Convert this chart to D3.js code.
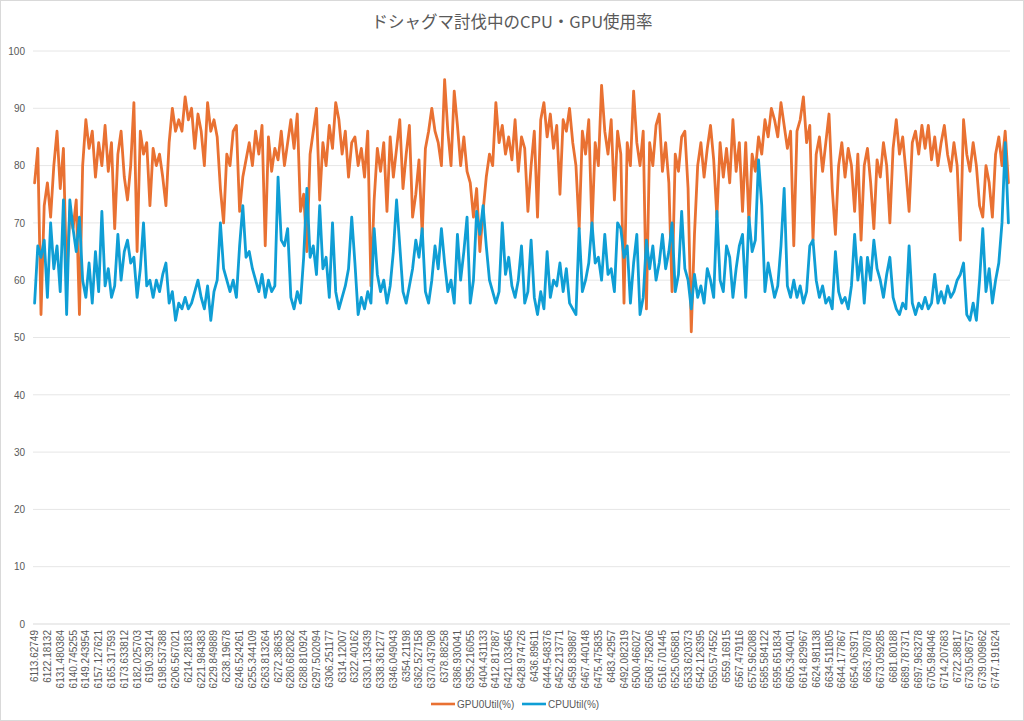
<!DOCTYPE html>
<html>
<head>
<meta charset="utf-8">
<script src="https://cdn.jsdelivr.net/npm/d3@7"></script>
<style>
  html, body { margin: 0; padding: 0; background: #fff; }
  svg { display: block; font-family: "Liberation Sans", "Noto Sans CJK JP", sans-serif; }
</style>
</head>
<body>
<svg class="vis" width="1024" height="721"></svg>
<script>
// time stamps shown on the x axis (every 4th sample)
const tickLabels = [
  '6113.62749','6122.18132','6131.480384','6140.745255','6149.243954','6157.127621','6165.317593','6173.633812',
  '6182.025703','6190.39214','6198.537388','6206.567021','6214.28183','6221.984383','6229.849889','6238.19678',
  '6246.524261','6255.344109','6263.813264','6272.38635','6280.682082','6288.810924','6297.502094','6306.251177',
  '6314.12007','6322.40162','6330.133439','6338.361277','6346.049043','6354.21198','6362.527158','6370.437908',
  '6378.88258','6386.930041','6395.216055','6404.431133','6412.817887','6421.033465','6428.974726','6436.89611',
  '6444.548376','6452.213771','6459.839887','6467.440148','6475.475835','6483.42957','6492.082319','6500.466027',
  '6508.758206','6516.701445','6525.065881','6533.620373','6542.126395','6550.574552','6559.16915','6567.479116',
  '6575.962088','6585.584122','6595.651834','6605.340401','6614.829967','6624.981138','6634.511805','6644.177867',
  '6654.063971','6663.78078','6673.059285','6681.80188','6689.787371','6697.963278','6705.984046','6714.207683',
  '6722.38817','6730.508757','6739.009862','6747.191624'
];
const labelStep = 4;

const gpuUtil = [
  77,83,54,73,77,71,80,86,76,83, 60,72,69,74,54,80,88,83,86,78,
  84,80,87,79,84,69,82,86,78,74, 80,91,65,86,82,84,73,83,80,82,
  78,73,84,90,86,88,86,92,88,90, 83,89,86,80,91,86,88,85,76,70,
  82,80,86,87,72,78,81,84,80,86, 82,87,66,85,79,83,81,86,80,84,
  88,83,89,72,75,65,82,86,90,74, 84,80,87,83,91,88,82,86,78,84,
  85,80,83,78,86,59,74,83,79,84, 72,85,78,83,88,76,82,87,71,75,
  81,68,83,86,90,86,84,80,95,86, 80,93,87,80,85,79,77,71,76,65,
  72,78,82,80,91,84,87,82,85,81, 88,79,85,83,72,80,86,71,88,91,
  85,89,83,87,75,88,86,90,84,80, 69,86,82,88,69,84,80,94,86,82,
  88,74,86,82,56,84,80,93,84,80, 86,55,84,80,87,89,79,84,77,58,
  82,79,85,86,76,51,68,80,84,78, 83,87,81,71,84,78,83,77,88,79,
  84,72,84,70,82,79,85,82,88,85, 90,88,85,91,87,83,86,66,86,88,
  92,84,87,67,82,85,79,84,89,76, 68,80,84,78,83,80,72,82,67,80,
  83,77,69,81,78,84,80,70,83,88, 82,85,79,72,84,86,82,87,83,87,
  81,85,80,84,87,82,79,84,80,67, 88,82,79,84,80,73,71,80,77,71,
  82,85,80,86,77
];

const cpuUtil = [
  56,66,64,67,57,70,62,66,58,74, 54,74,69,65,71,60,57,63,56,65,
  58,72,59,62,57,59,68,60,65,67, 63,64,57,62,70,59,60,57,60,58,
  61,63,56,58,53,56,55,57,55,56, 58,60,57,55,59,53,58,60,70,62,
  60,58,60,57,66,73,64,65,62,60, 58,61,57,60,58,59,78,67,66,69,
  57,55,58,56,64,76,64,66,61,73, 62,64,57,70,58,55,57,59,62,71,
  63,54,57,55,58,56,69,61,58,60, 56,59,65,74,66,58,56,59,62,67,
  64,69,58,56,60,66,62,69,63,58, 60,56,68,60,65,71,56,60,72,68,
  73,66,60,58,56,58,70,61,64,59, 57,60,66,56,58,67,57,54,58,55,
  65,57,60,59,63,58,62,56,55,54, 69,58,60,63,70,63,64,60,68,61,
  62,58,70,69,64,66,56,63,68,54, 57,67,62,66,60,63,68,62,65,70,
  58,61,72,62,60,55,61,57,59,56, 62,60,57,72,60,58,66,64,57,62,
  66,68,57,71,65,67,81,73,58,63, 60,57,59,66,76,59,57,60,57,59,
  56,58,66,67,60,57,59,56,57,55, 65,58,56,57,55,59,68,60,64,56,
  64,60,67,62,60,57,61,64,57,55, 54,56,55,66,56,54,56,55,57,55,
  56,61,56,58,56,59,57,58,60,61, 63,54,53,56,53,60,69,58,62,56,
  60,63,70,84,70
];

const yTicks = [0, 10, 20, 30, 40, 50, 60, 70, 80, 90, 100];
const seriesNames = ['GPU0Util(%)', 'CPUUtil(%)'];
const seriesColors = ['#E97132', '#0F9ED5'];

const v = {

    sizings : { w : 1024, h : 721, left : 33, right : 1010, top : 51, bottom : 624 },

    render : () => {

        const s = v.sizings;
        const svg = d3.select('svg.vis');

        // chart area border
        svg.append('rect')
          .attr('x', 0.5).attr('y', 0.5)
          .attr('width', s.w - 1).attr('height', s.h - 1)
          .attr('fill', '#fff').attr('stroke', '#d9d9d9');

        const n = gpuUtil.length;

        const x = d3.scaleBand()
          .domain(d3.range(n))
          .range([s.left, s.right]);

        const y = d3.scaleLinear()
          .domain([0, 100])
          .range([s.bottom, s.top]);

        const cx = i => x(i) + x.bandwidth() / 2;

        // gridlines
        svg.append('g')
          .selectAll('line')
          .data(yTicks)
          .join('line')
          .attr('x1', s.left).attr('x2', s.right)
          .attr('y1', d => y(d)).attr('y2', d => y(d))
          .attr('stroke', d => d === 0 ? '#d9d9d9' : '#e6e6e6')
          .attr('stroke-width', 1);

        // y axis labels
        const yAxis = d3.axisLeft(y).tickValues(yTicks).tickSize(0).tickPadding(8);
        svg.append('g')
          .attr('transform', `translate(${s.left},0)`)
          .call(yAxis)
          .call(g => g.select('.domain').remove())
          .selectAll('text')
          .attr('fill', '#595959')
          .style('font-size', '10px');

        // x axis labels
        const xAxis = d3.axisBottom(x)
          .tickValues(tickLabels.map((d, k) => k * labelStep))
          .tickFormat(i => tickLabels[i / labelStep])
          .tickSize(0);

        svg.append('g')
          .attr('transform', `translate(0,${s.bottom})`)
          .call(xAxis)
          .call(g => g.select('.domain').remove())
          .selectAll('text')
          .attr('fill', '#595959')
          .style('font-size', '10px')
          .attr('text-anchor', 'end')
          .attr('transform', 'rotate(-90)')
          .attr('x', -6)
          .attr('y', 0)
          .attr('dy', '0.35em');

        // lines
        const line = d3.line()
          .x((d, i) => cx(i))
          .y(d => y(d));

        [gpuUtil, cpuUtil].forEach((series, k) => {
            svg.append('path')
              .datum(series)
              .attr('fill', 'none')
              .attr('stroke', seriesColors[k])
              .attr('stroke-width', 2.8)
              .attr('stroke-linejoin', 'round')
              .attr('stroke-linecap', 'round')
              .attr('d', line);
        });

        // title
        svg.append('text')
          .attr('x', 512).attr('y', 28)
          .attr('text-anchor', 'middle')
          .attr('fill', '#595959')
          .style('font-size', '16.5px')
          .style('font-family', '"Noto Sans CJK JP", sans-serif')
          .text('ドシャグマ討伐中のCPU・GPU使用率');

        // legend
        const legendX = [431, 522];
        const lg = svg.append('g');
        seriesNames.forEach((name, k) => {
            lg.append('line')
              .attr('x1', legendX[k]).attr('x2', legendX[k] + 24)
              .attr('y1', 704).attr('y2', 704)
              .attr('stroke', seriesColors[k])
              .attr('stroke-width', 2.6);
            lg.append('text')
              .attr('x', legendX[k] + 26).attr('y', 704)
              .attr('dy', '0.35em')
              .attr('fill', '#595959')
              .style('font-size', '10px')
              .text(name);
        });

    }

};

v.render();
</script>
</body>
</html>
